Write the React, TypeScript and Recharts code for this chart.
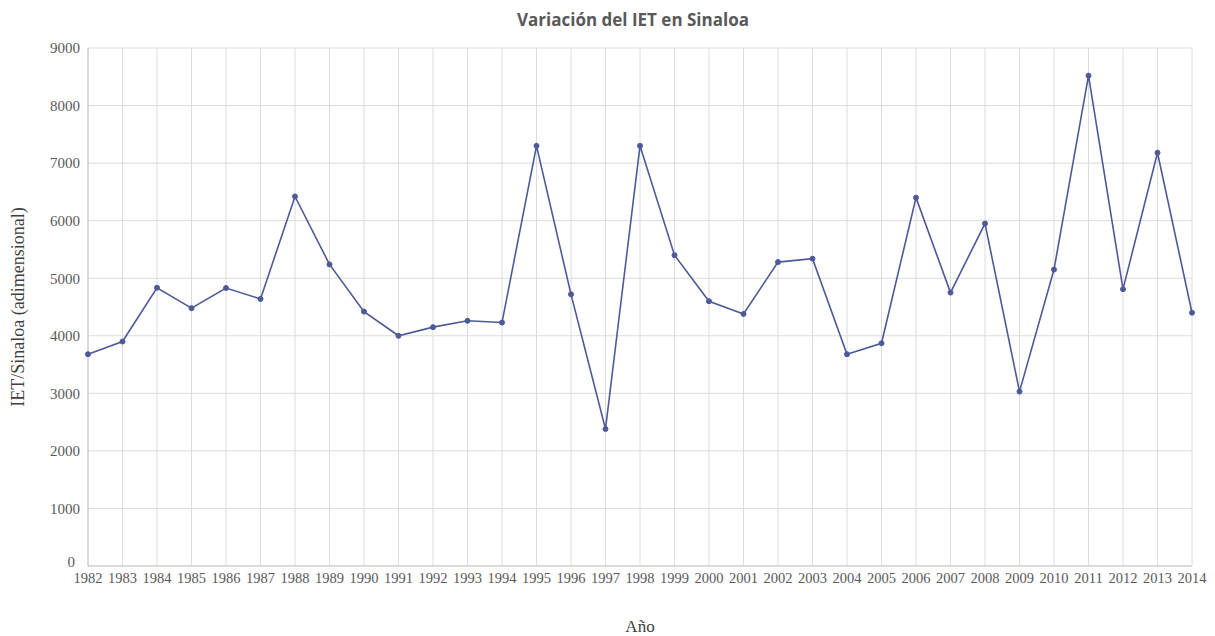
import React from 'react';
import { LineChart, Line, XAxis, YAxis, CartesianGrid } from 'recharts';

const years: string[] = [
  '1982', '1983', '1984', '1985', '1986', '1987', '1988', '1989', '1990', '1991', '1992',
  '1993', '1994', '1995', '1996', '1997', '1998', '1999', '2000', '2001', '2002', '2003',
  '2004', '2005', '2006', '2007', '2008', '2009', '2010', '2011', '2012', '2013', '2014',
];

const ietValues: number[] = [
  3680, 3900, 4835, 4480, 4830, 4640, 6420, 5240, 4420, 4000, 4150,
  4260, 4230, 7300, 4720, 2380, 7300, 5400, 4600, 4380, 5280, 5340,
  3680, 3870, 6400, 4750, 5950, 3030, 5150, 8520, 4810, 7180, 4400,
];

const yTicks: number[] = [0, 1000, 2000, 3000, 4000, 5000, 6000, 7000, 8000, 9000];

const data = years.map((y, i) => ({ year: y, iet: ietValues[i] }));

const YTick = (props: any) => {
  const { x, y, payload } = props;
  const isZero = payload.value === 0;
  return (
    <text
      x={x + (isZero ? -5 : 0)}
      y={y + (isZero ? -4 : 0)}
      dy="0.355em"
      textAnchor="end"
      fontFamily='"Liberation Serif", serif'
      fontSize={15}
      fill="#595959"
    >
      {payload.value}
    </text>
  );
};

export default function App() {
  return (
    <div style={{ position: 'relative', width: 1199, height: 628 }}>
      <div
        style={{
          position: 'absolute',
          top: 0,
          left: 0,
          width: 1250,
          textAlign: 'center',
          fontFamily: '"Open Sans", sans-serif',
          fontWeight: 700,
          fontSize: 17,
          color: '#595959',
          whiteSpace: 'nowrap',
        }}
      >
        Variación del IET en Sinaloa
      </div>
      <LineChart
        width={1199}
        height={628}
        data={data}
        margin={{ top: 40, right: 15, bottom: 0, left: 0 }}
      >
        <CartesianGrid stroke="#dcdcdc" strokeWidth={1} />
        <XAxis
          dataKey="year"
          scale="point"
          padding={{ left: 0, right: 0 }}
          interval={0}
          height={70}
          tickLine={false}
          tickSize={5}
          axisLine={{ stroke: '#c8c8c8' }}
          tick={{ fontFamily: '"Liberation Serif", serif', fontSize: 14.5, fill: '#595959' }}
          label={{
            value: 'Año',
            position: 'insideBottom',
            offset: 4,
            style: { fontFamily: '"Liberation Serif", serif', fontSize: 17, fill: '#404040' },
          }}
        />
        <YAxis
          type="number"
          domain={[0, 9000]}
          ticks={yTicks}
          interval={0}
          width={80}
          tickLine={false}
          axisLine={{ stroke: '#c8c8c8' }}
          tick={<YTick />}
          label={{
            value: 'IET/Sinaloa (adimensional)',
            angle: -90,
            position: 'insideLeft',
            offset: 10,
            style: { textAnchor: 'middle', fontFamily: '"Liberation Serif", serif', fontSize: 18, fill: '#404040' },
          }}
        />
        <Line
          type="linear"
          dataKey="iet"
          stroke="#4e5a98"
          strokeWidth={1.6}
          dot={{ r: 2.5, fill: '#4e5a98', stroke: '#4e5a98', strokeWidth: 1 }}
          isAnimationActive={false}
        />
      </LineChart>
    </div>
  );
}
